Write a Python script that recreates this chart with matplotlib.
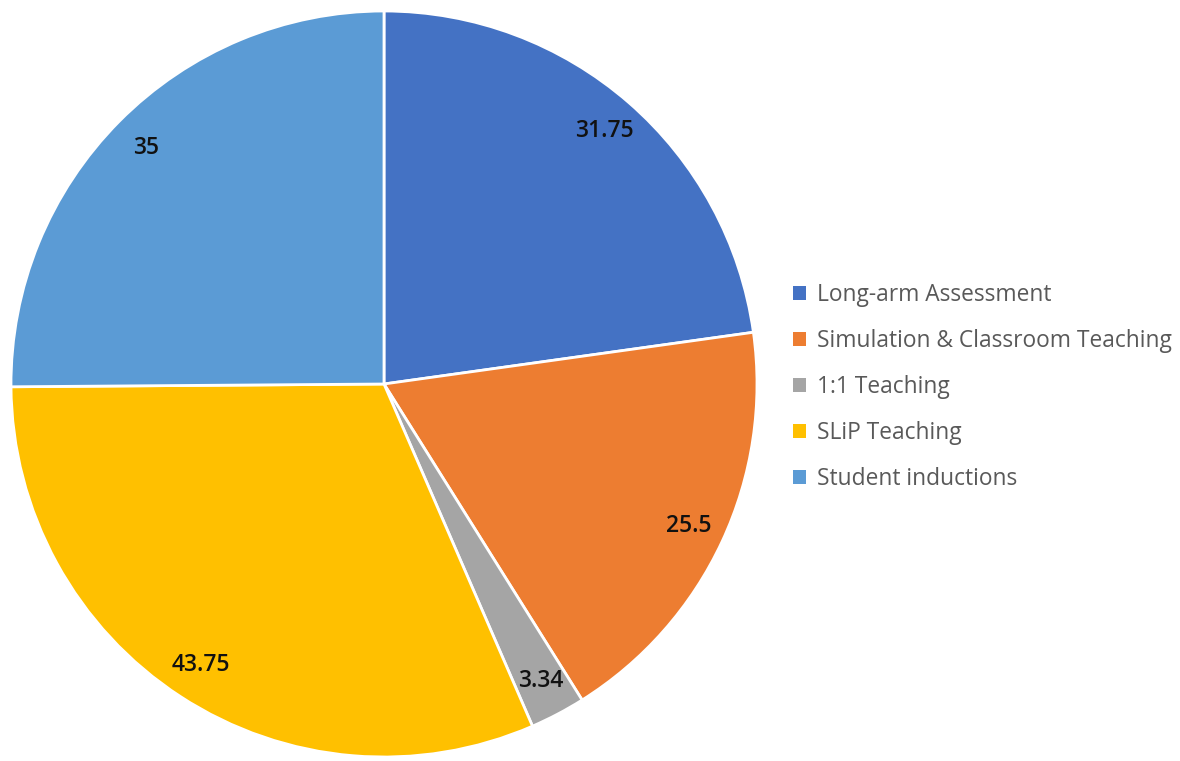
import matplotlib
matplotlib.use("Agg")
import matplotlib.pyplot as plt
from matplotlib.patches import Patch

categories = ["Long-arm Assessment", "Simulation & Classroom Teaching", "1:1 Teaching",
              "SLiP Teaching", "Student inductions"]
values = [31.75, 25.5, 3.34, 43.75, 35]
value_labels = ["31.75", "25.5", "3.34", "43.75", "35"]
colors = ["#4472C4", "#ED7D31", "#A5A5A5", "#FFC000", "#5B9BD5"]

plt.rcParams['font.family'] = ['Open Sans', 'DejaVu Sans']

W, H = 1180, 761
fig = plt.figure(figsize=(W / 100, H / 100), dpi=100)
cx, cy, r = 384, 384, 373
ax = fig.add_axes([(cx - r) / W, (H - cy - r) / H, 2 * r / W, 2 * r / H])

it = iter(value_labels)
wedges, texts, autotexts = ax.pie(
    values, colors=colors, startangle=90, counterclock=False,
    wedgeprops=dict(edgecolor="white", linewidth=2),
    autopct=lambda p: next(it), pctdistance=0.9,
    textprops=dict(fontsize=16.5, color="#111111", fontweight="semibold"))
ax.set_xlim(-1, 1)
ax.set_ylim(-1, 1)
ax.set_aspect("equal")

handles = [Patch(facecolor=c, edgecolor="none") for c in colors]
leg = fig.legend(handles, categories, loc="upper left",
                 bbox_to_anchor=(793 / W, 1 - 283 / H), frameon=False,
                 fontsize=16.4, labelcolor="#595959", handlelength=0.55,
                 handleheight=0.55, handletextpad=0.5, labelspacing=0.97,
                 borderpad=0, borderaxespad=0)

fig.savefig("out.png", dpi=100, facecolor="white")
